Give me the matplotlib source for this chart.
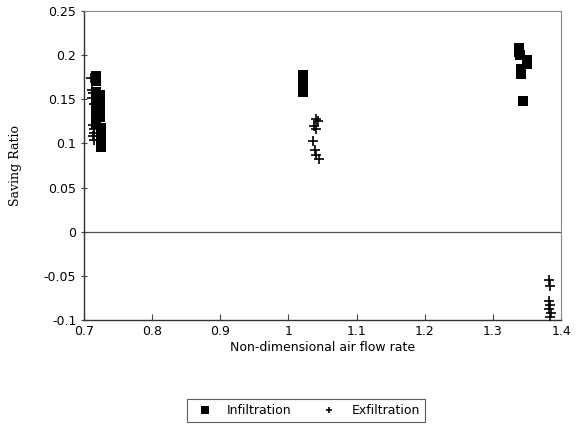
import matplotlib
matplotlib.use("Agg")
import matplotlib.pyplot as plt

# Infiltration (squares)
inf_x = [0.717, 0.717,
         0.718, 0.718, 0.718, 0.718, 0.718, 0.718, 0.718,
         0.723, 0.723, 0.723, 0.723, 0.723,
         0.725, 0.725,
         0.725, 0.725, 0.725,
         1.021, 1.021, 1.021, 1.021, 1.021,
         1.338, 1.338, 1.340, 1.350, 1.350, 1.341, 1.341, 1.344]
inf_y = [0.176, 0.171,
         0.158, 0.152, 0.146, 0.140, 0.134, 0.128, 0.122,
         0.155, 0.148, 0.142, 0.136, 0.130,
         0.118, 0.113,
         0.108, 0.102, 0.096,
         0.178, 0.173, 0.168, 0.163, 0.158,
         0.208, 0.204, 0.200, 0.195, 0.190, 0.184, 0.179, 0.148]

# Exfiltration (plus)
exf_x = [0.711, 0.712, 0.713, 0.712, 0.714, 0.713, 0.714, 0.715, 0.713, 0.714,
         1.041, 1.044, 1.038, 1.040, 1.036, 1.039, 1.041, 1.045,
         1.383, 1.384, 1.383, 1.384, 1.383, 1.385, 1.384]
exf_y = [0.174, 0.161, 0.157, 0.152, 0.145, 0.121, 0.116, 0.112, 0.108, 0.104,
         0.128, 0.125, 0.120, 0.116, 0.103, 0.092, 0.087, 0.082,
         -0.055, -0.062, -0.078, -0.083, -0.088, -0.092, -0.097]

xticks = [0.7, 0.8, 0.9, 1.0, 1.1, 1.2, 1.3, 1.4]
xtick_labels = ["0.7", "0.8", "0.9", "1", "1.1", "1.2", "1.3", "1.4"]
yticks = [-0.1, -0.05, 0, 0.05, 0.1, 0.15, 0.2, 0.25]
ytick_labels = ["-0.1", "-0.05", "0", "0.05", "0.1", "0.15", "0.2", "0.25"]

fig = plt.figure(figsize=(5.82, 4.34), dpi=100)
ax = fig.add_axes([0.1443, 0.2627, 0.8197, 0.712])

ax.axhline(0, color="#555555", lw=0.9, zorder=1)
ax.scatter(inf_x, inf_y, marker="s", s=52, color="black", linewidths=0, zorder=3,
           label="Infiltration")
ax.scatter(exf_x, exf_y, marker="+", s=48, color="black", linewidths=1.2, zorder=4,
           label="Exfiltration")

ax.set_xlim(0.7, 1.4)
ax.set_ylim(-0.1, 0.25)
ax.set_xticks(xticks)
ax.set_xticklabels(xtick_labels)
ax.set_yticks(yticks)
ax.set_yticklabels(ytick_labels)
ax.tick_params(axis="both", labelsize=9, length=4, width=0.8, color="#444444")
ax.tick_params(axis="y", direction="inout")
ax.tick_params(axis="x", direction="in")

for side in ["left", "bottom"]:
    ax.spines[side].set_color("#333333")
    ax.spines[side].set_linewidth(1.0)
for side in ["top", "right"]:
    ax.spines[side].set_color("#888888")
    ax.spines[side].set_linewidth(0.8)

ax.set_xlabel("Non-dimensional air flow rate", fontsize=9, labelpad=2)
ax.set_ylabel("Saving Ratio", fontsize=9, family="DejaVu Serif", labelpad=16)

leg = fig.legend(loc="center", bbox_to_anchor=(0.526, 0.055), ncol=2, fontsize=9,
                 frameon=True, fancybox=False, edgecolor="#333333",
                 handletextpad=0.8, columnspacing=2.0, markerscale=0.7)
leg.get_frame().set_linewidth(0.8)

fig.savefig("out.png", dpi=100)
